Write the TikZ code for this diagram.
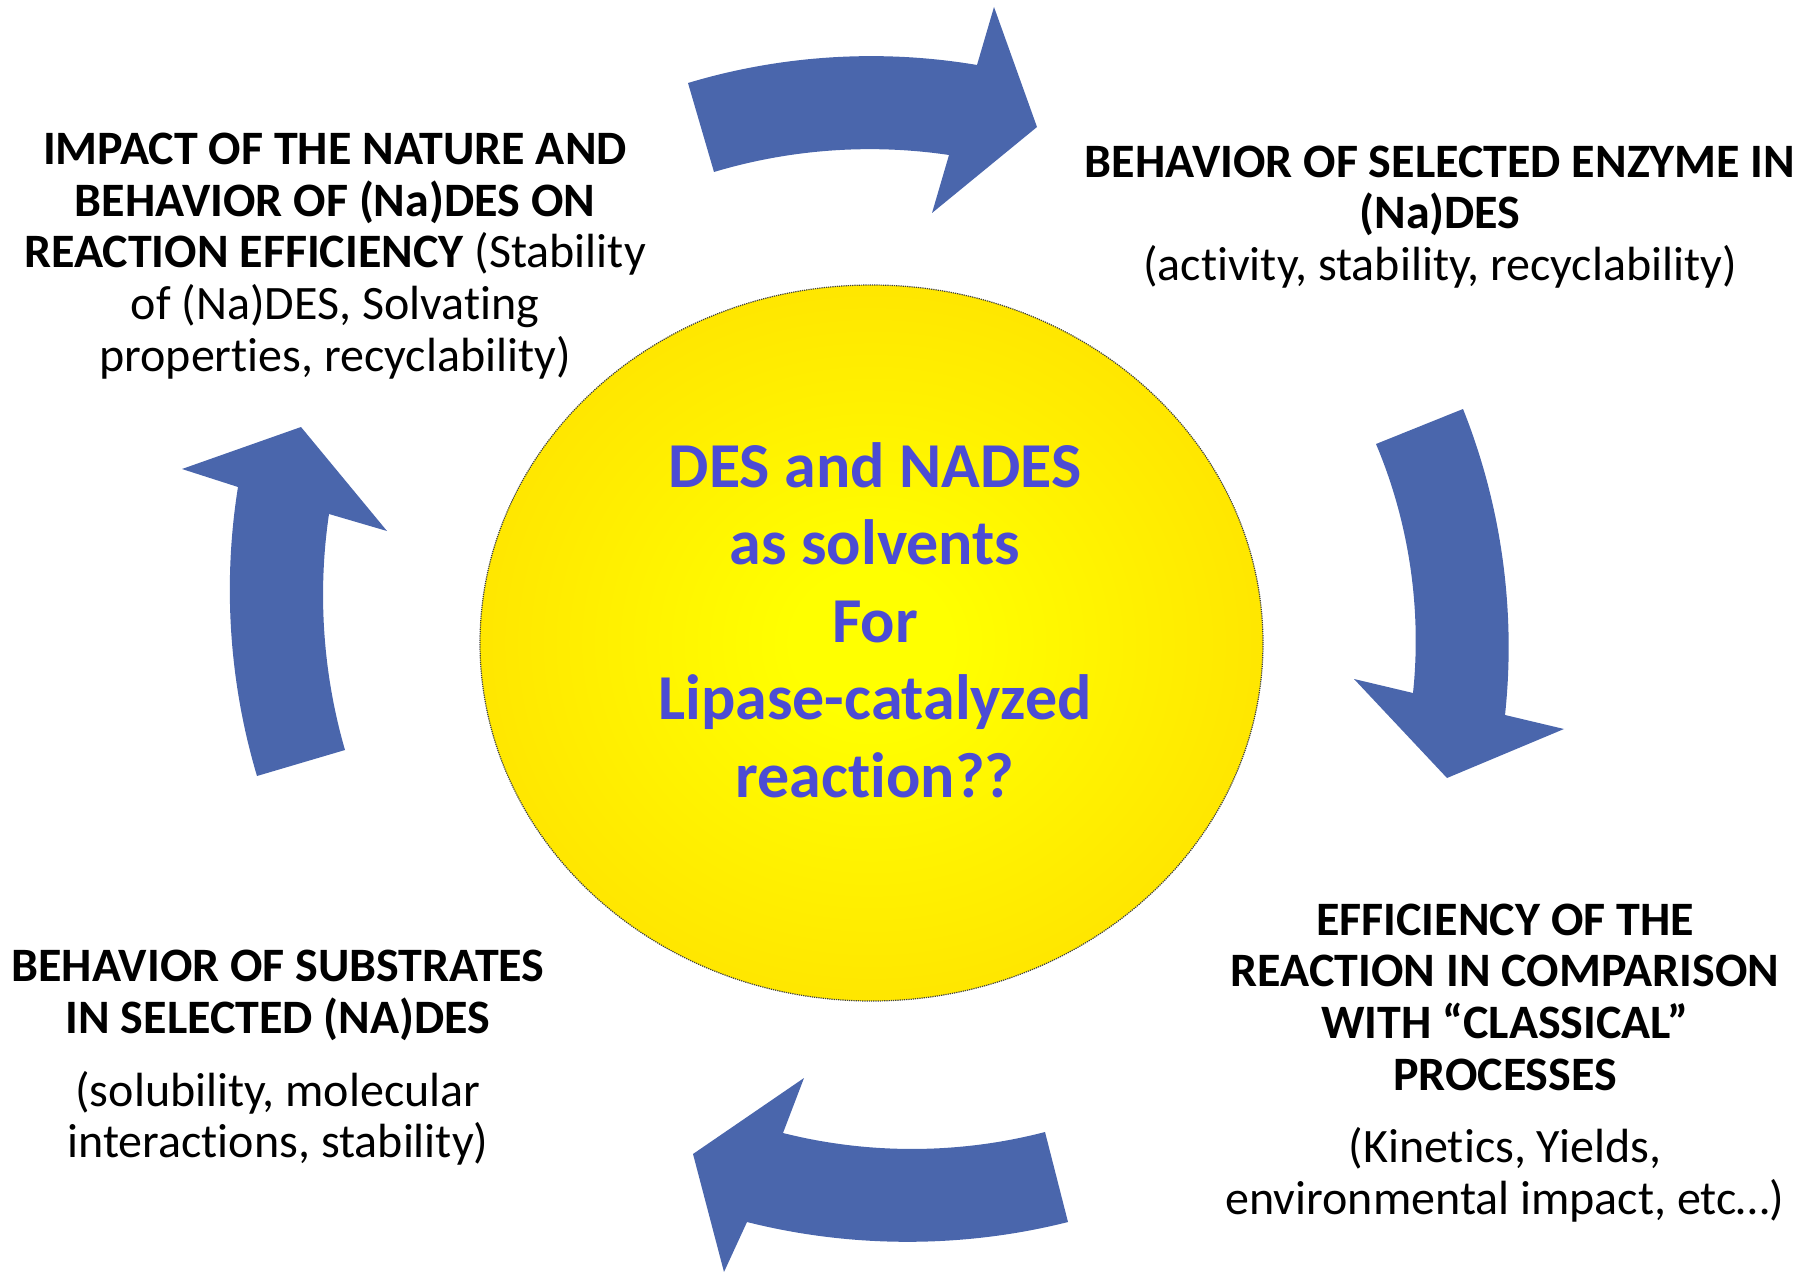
\documentclass[tikz,border=0pt]{standalone}
\usepackage{fontspec}
\setmainfont{Carlito}[Ligatures=NoCommon]
\usetikzlibrary{shapes.geometric}
\definecolor{arrowblue}{RGB}{74,102,172}
\definecolor{centertext}{RGB}{76,76,212}
\definecolor{sunC}{RGB}{255,255,0}
\definecolor{sunO}{RGB}{255,200,0}
\pgfdeclareradialshading{sunshade}{\pgfpoint{0bp}{0bp}}{color(0bp)=(sunC); color(5bp)=(sunC); color(50bp)=(sunO)}
\begin{document}
\begin{tikzpicture}[x=1pt,y=1pt,
  bigarrow/.style={fill=arrowblue, draw=none},
  outerarc/.style={bend left=#1, looseness=0.86},
  innerarc/.style={bend right=#1, looseness=0.86},
  label/.style={align=center, inner sep=0pt, font=\fontsize{48}{51.7}\selectfont, text=black},
  centerlabel/.style={align=center, inner sep=0pt, font=\fontsize{64}{77.5}\selectfont\bfseries, text=centertext}]
\useasboundingbox (0,0) rectangle (1800,-1273);
% centre ellipse
\node[ellipse, minimum width=783pt, minimum height=716pt, inner sep=0pt,
  shading=sunshade, draw=black!75, densely dotted, line width=1.2pt] (sun) at (871.5,-643) {};
\node[centerlabel] (question) at (875,-620) {DES and NADES\\as solvents\\For\\Lipase-catalyzed\\reaction??};
% top arrow
\fill[bigarrow] (688,-83) to[outerarc=13.2] (977,-65)
  -- (994,-7) -- (1037,-127) -- (932,-213)
  -- (949,-155) to[innerarc=12.6] (714,-172) -- cycle;
% right arrow
\fill[bigarrow] (1463,-409) to[outerarc=14] (1505,-715)
  -- (1564,-729) -- (1447,-778) -- (1354,-679)
  -- (1413,-693) to[innerarc=14.5] (1376,-444) -- cycle;
% bottom arrow
\fill[bigarrow] (1068,-1222) to[outerarc=14.2] (747,-1222)
  -- (724,-1272) -- (693,-1154) -- (804,-1078)
  -- (783,-1133) to[innerarc=14.4] (1045,-1132) -- cycle;
% left arrow
\fill[bigarrow] (257,-776) to[outerarc=12.9] (238,-487)
  -- (182,-469) -- (301,-427) -- (387,-531)
  -- (329,-514) to[innerarc=12.3] (345,-750) -- cycle;
% texts
\node[label] (tl) at (335,-256) {\textbf{IMPACT OF THE NATURE AND}\\\textbf{BEHAVIOR OF (Na)DES ON}\\\textbf{REACTION EFFICIENCY} (Stability\\of (Na)DES, Solvating\\properties, recyclability)};
\node[label] (tr) at (1440,-217) {\textbf{BEHAVIOR OF SELECTED ENZYME IN}\\\textbf{(Na)DES}\\(activity, stability, recyclability)};
\node[label] (bl) at (278,-1058) {\textbf{BEHAVIOR OF SUBSTRATES}\\\textbf{IN SELECTED (NA)DES}\\[21pt](solubility, molecular\\interactions, stability)};
\node[label] (br) at (1505,-1063) {\textbf{EFFICIENCY OF THE}\\\textbf{REACTION IN COMPARISON}\\\textbf{WITH “CLASSICAL”}\\\textbf{PROCESSES}\\[21pt](Kinetics, Yields,\\environmental impact, etc…)};
\end{tikzpicture}
\end{document}
